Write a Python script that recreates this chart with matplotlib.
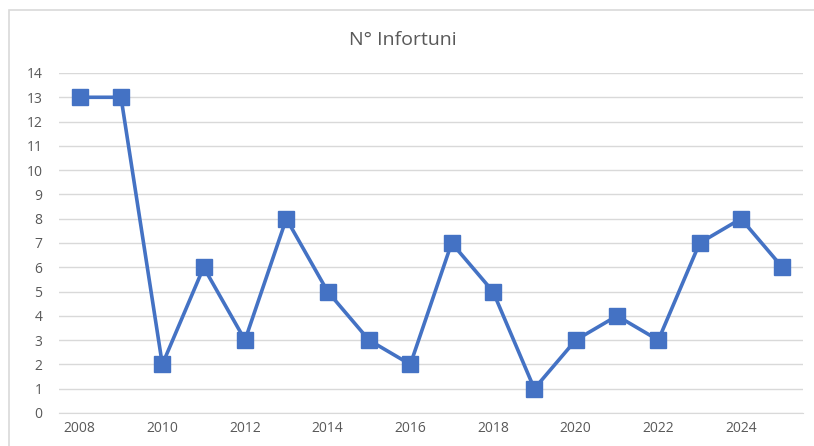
import matplotlib
matplotlib.use("Agg")
import matplotlib.pyplot as plt
from matplotlib.patches import Rectangle

years = [2008, 2009, 2010, 2011, 2012, 2013, 2014, 2015, 2016, 2017,
         2018, 2019, 2020, 2021, 2022, 2023, 2024, 2025]
infortuni = [13, 13, 2, 6, 3, 8, 5, 3, 2, 7, 5, 1, 3, 4, 3, 7, 8, 6]
y_ticks = list(range(0, 15))

plt.rcParams['font.family'] = ['Open Sans', 'DejaVu Sans']

W, H = 814, 446
fig = plt.figure(figsize=(W / 100, H / 100), dpi=100)
fig.patch.set_facecolor('white')

# outer chart frame
fig.patches.append(Rectangle((9 / W, -0.1), 1.2, 1 - 10 / H + 0.1,
                             transform=fig.transFigure, fill=False,
                             edgecolor='#d9d9d9', linewidth=1.2))

ax = fig.add_axes([59 / W, 1 - 413 / H, (803 - 59) / W, (413 - 73) / H])
x = list(range(len(years)))
ax.plot(x, infortuni, color='#4472C4', linewidth=2.6, marker='s',
        markersize=11, markerfacecolor='#4472C4', markeredgecolor='#4472C4',
        zorder=3, solid_joinstyle='round')

ax.set_xlim(-0.5, len(years) - 0.5)
ax.set_ylim(0, 14)
ax.set_yticks(y_ticks)
ax.set_yticklabels([str(v) for v in y_ticks])
ax.set_xticks(x[::2])
ax.set_xticklabels([str(years[i]) for i in x[::2]])
ax.grid(axis='y', color='#d9d9d9', linewidth=1.0)
ax.set_axisbelow(True)
for s in ax.spines.values():
    s.set_visible(False)
ax.spines['bottom'].set_visible(True)
ax.spines['bottom'].set_color('#d9d9d9')
ax.tick_params(axis='both', length=0, labelsize=10, labelcolor='#595959')
ax.tick_params(axis='y', pad=12)
ax.tick_params(axis='x', pad=6)

fig.text(0.5 - 4 / W, 1 - 40 / H, 'N° Infortuni', ha='center', va='center',
         fontsize=14, color='#595959')

fig.savefig('out.png', dpi=100)
